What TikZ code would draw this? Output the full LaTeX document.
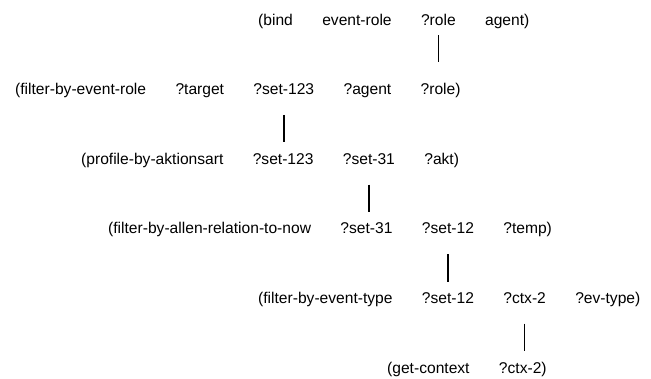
\documentclass[tikz,border=0pt]{standalone}
\usepackage{fontspec}
\setmainfont{Liberation Sans}
\usetikzlibrary{positioning}

\begin{document}
\begin{tikzpicture}[
    x=1pt, y=1pt,
    node distance=29pt,
    word/.style={inner sep=0pt, anchor=west, text height=11.2pt, text depth=0pt, font=\fontsize{15.6}{18}\selectfont},
    link/.style={draw, line width=1.6pt, shorten <=20pt, shorten >=10.5pt}
]
    \useasboundingbox (0,0) rectangle (651,-378);

    \node [word] (bind) at (258,-19.5) {(bind};
    \node [word, right=of bind] (bindevent) {event-role};
    \node [word, right=of bindevent] (bindrole) {?role};
    \node [word, right=of bindrole] (bindagent) {agent)};

    \node [word] (filterrole) at (15,-89.1) {(filter-by-event-role};
    \node [word, right=of filterrole] (filterroletarget) {?target};
    \node [word, right=of filterroletarget] (filterroleset) {?set-123};
    \node [word, right=of filterroleset] (filterroleagent) {?agent};
    \node [word, right=of filterroleagent] (filterrolerole) {?role)};

    \node [word] (profile) at (81,-158.7) {(profile-by-aktionsart};
    \node [word, right=of profile] (profileseta) {?set-123};
    \node [word, right=of profileseta] (profilesetb) {?set-31};
    \node [word, right=of profilesetb] (profileakt) {?akt)};

    \node [word] (allen) at (108,-228.3) {(filter-by-allen-relation-to-now};
    \node [word, right=of allen] (allenseta) {?set-31};
    \node [word, right=of allenseta] (allensetb) {?set-12};
    \node [word, right=of allensetb] (allentemp) {?temp)};

    \node [word] (evtype) at (258,-297.9) {(filter-by-event-type};
    \node [word, right=of evtype] (evtypeset) {?set-12};
    \node [word, right=of evtypeset] (evtypectx) {?ctx-2};
    \node [word, right=of evtypectx] (evtypeev) {?ev-type)};

    \node [word] (context) at (387,-367.5) {(get-context};
    \node [word, right=of context] (contextctx) {?ctx-2)};

    \path [link, shorten <=10pt, shorten >=21pt] (bindrole.south) -- (bindrole.south |- filterrolerole.north);
    \path [link] (filterroleset.south) -- (filterroleset.south |- profileseta.north);
    \path [link] (profilesetb.south) -- (profilesetb.south |- allenseta.north);
    \path [link] (allensetb.south) -- (allensetb.south |- evtypeset.north);
    \path [link] (evtypectx.south) -- (evtypectx.south |- contextctx.north);
\end{tikzpicture}
\end{document}
